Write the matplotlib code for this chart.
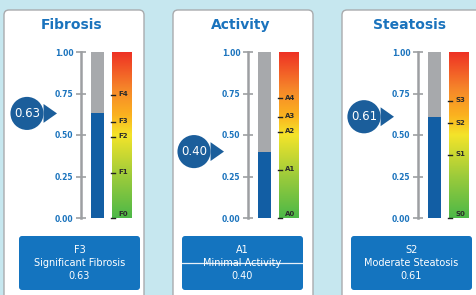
import matplotlib.pyplot as plt
import numpy as np
from matplotlib.patches import FancyBboxPatch
from matplotlib.colors import LinearSegmentedColormap

# dados
titulos = ["Fibrosis", "Activity", "Steatosis"]
valores = [0.63, 0.40, 0.61]
estagios = ["F3", "A1", "S2"]
descricoes = ["Significant Fibrosis", "Minimal Activity", "Moderate Steatosis"]
nomes_fib = ["F0", "F1", "F2", "F3", "F4"]
pos_fib = [0.0, 0.27, 0.49, 0.58, 0.74]
nomes_act = ["A0", "A1", "A2", "A3", "A4"]
pos_act = [0.0, 0.29, 0.52, 0.61, 0.72]
nomes_ste = ["S0", "S1", "S2", "S3"]
pos_ste = [0.0, 0.38, 0.57, 0.705]
marcas_nomes = [nomes_fib, nomes_act, nomes_ste]
marcas_pos = [pos_fib, pos_act, pos_ste]
yticks = [0.0, 0.25, 0.5, 0.75, 1.0]

W, H = 476, 295
fundo = "#c6e7ef"
azul_txt = "#1a73bd"
azul_barra = "#125ea4"
azul_bolha = "#1b5e9b"
azul_caixa = "#1474bf"
cinza = "#a7a9ac"

fig = plt.figure(figsize=(W / 100, H / 100), dpi=100)
fig.patch.set_facecolor(fundo)

# eixo de fundo em pixels
bg = fig.add_axes([0, 0, 1, 1])
bg.set_xlim(0, W)
bg.set_ylim(H, 0)
bg.axis("off")

cmap = LinearSegmentedColormap.from_list(
    "escala", [(0, "#4cb848"), (0.25, "#9ccb3b"), (0.5, "#f4e42a"),
               (0.62, "#fbb21f"), (0.78, "#f6862a"), (1, "#ee3124")])
grad = np.linspace(0, 1, 256).reshape(-1, 1)

cartoes_x = [4, 173, 342]
eixo_x = [81, 248, 418]
caixa_x = [19, 182, 351]
topo, base = 52, 218

def px(x, y):
    return x / W, 1 - y / H

for i in range(3):
    cx = cartoes_x[i]
    bg.add_patch(FancyBboxPatch((cx, 10), 140, 300, boxstyle="round,pad=0,rounding_size=5",
                                fc="white", ec="#a9abae", lw=1.0))
    bg.text(cx + 68, 25, titulos[i], ha="center", va="center", fontsize=10,
            fontweight="bold", color=azul_txt)
    bx = caixa_x[i]
    bg.add_patch(FancyBboxPatch((bx, 236), 121, 54, boxstyle="round,pad=0,rounding_size=3",
                                fc=azul_caixa, ec="none"))
    bg.text(bx + 60.5, 250, estagios[i], ha="center", va="center", fontsize=7, color="white")
    bg.text(bx + 60.5, 263, descricoes[i], ha="center", va="center", fontsize=7, color="white")
    bg.text(bx + 60.5, 276, "%.2f" % valores[i], ha="center", va="center", fontsize=7, color="white")
    if i == 1:
        bg.plot([bx, bx + 121], [263, 263], color="white", lw=0.9, alpha=0.9)

    # escala
    l, b = px(eixo_x[i], base)
    ax = fig.add_axes([l, b, 52 / W, (base - topo) / H])
    ax.set_facecolor("none")
    for s in ["top", "right", "bottom"]:
        ax.spines[s].set_visible(False)
    ax.spines["left"].set_color("#9d9fa2")
    ax.spines["left"].set_linewidth(1.8)
    ax.set_xticks([])
    ax.set_yticks(yticks)
    ax.set_yticklabels(["%.2f" % t for t in yticks])
    ax.tick_params(axis="y", direction="inout", length=7, width=1.2, color="#9d9fa2",
                   labelsize=5.5, labelcolor=azul_txt, pad=2)
    for lab in ax.get_yticklabels():
        lab.set_fontweight("bold")

    v = valores[i]
    ax.bar(16.5, v, width=13, color=azul_barra)
    ax.bar(16.5, 1 - v, bottom=v, width=13, color=cinza)
    ax.imshow(grad, extent=[31, 51, 0, 1], origin="lower", cmap=cmap, aspect="auto")
    ax.set_xlim(0, 52)
    ax.set_ylim(0, 1)
    for nome, p in zip(marcas_nomes[i], marcas_pos[i]):
        ax.plot([30, 33.5], [p, p], color="#222222", lw=1.0, clip_on=False)
        ax.text(37, p + 0.005, nome, ha="left", va="bottom" if p == 0 else "center",
                fontsize=5, fontweight="bold", color="#2b2b2b")

    ax.annotate("%.2f" % v, xy=(-24, v), xycoords=("axes pixels", "data"),
                xytext=(-54, v), textcoords=("axes pixels", "data"),
                ha="center", va="center", fontsize=8.5, color="white",
                bbox=dict(boxstyle="circle,pad=0.3", fc=azul_bolha, ec="none"),
                arrowprops=dict(arrowstyle="wedge,tail_width=1.6,shrink_factor=0.5",
                                fc=azul_bolha, ec="none", shrinkA=0, shrinkB=0),
                annotation_clip=False)

fig.savefig("out.png", dpi=100, facecolor=fundo)
